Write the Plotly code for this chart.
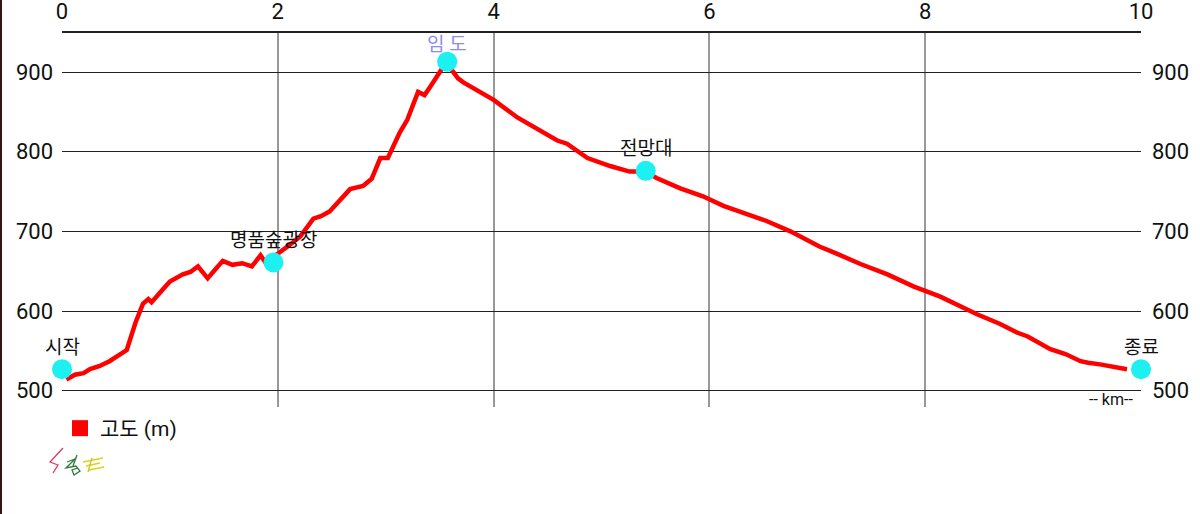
import plotly.graph_objects as go

# ---- data ----
dist_km = [0.04, 0.12, 0.20, 0.26, 0.35, 0.44, 0.52, 0.60, 0.68, 0.75, 0.80, 0.83, 0.94, 1.00,
           1.12, 1.19, 1.26, 1.35, 1.42, 1.49, 1.58, 1.67, 1.76, 1.84, 1.88, 1.99, 2.11, 2.21,
           2.33, 2.40, 2.48, 2.67, 2.79, 2.87, 2.95, 3.02, 3.13, 3.20, 3.30, 3.36, 3.41, 3.50,
           3.55, 3.60, 3.67, 3.72, 3.87, 4.00, 4.22, 4.40, 4.59, 4.68, 4.77, 4.87, 5.08, 5.26,
           5.41, 5.51, 5.73, 5.94, 6.13, 6.35, 6.53, 6.75, 7.02, 7.18, 7.40, 7.65, 7.89, 8.14,
           8.48, 8.69, 8.85, 8.95, 9.16, 9.30, 9.44, 9.51, 9.62, 9.87]
elev_m = [514, 520, 522, 527, 531, 537, 544, 551, 585, 609, 615, 611, 628, 637,
          646, 649, 656, 641, 652, 663, 658, 660, 656, 670, 662, 671, 683, 694,
          716, 719, 725, 753, 757, 766, 792, 792, 824, 840, 875, 871, 881, 900,
          910, 905, 892, 887, 875, 865, 843, 829, 814, 810, 801, 792, 782, 775,
          775, 767, 754, 744, 732, 722, 713, 700, 681, 672, 659, 646, 631, 618,
          596, 584, 573, 568, 552, 546, 537, 535, 533, 527]

poi_names = ["시작", "명품숲광장", "임 도", "전망대", "종료"]
poi_km = [0.0, 1.96, 3.57, 5.41, 10.0]
poi_elev = [527, 661, 913, 776, 527]
poi_label_colors = ["#111111", "#111111", "#8c8cf0", "#111111", "#111111"]
poi_label_shift = [22, 22, 17, 22, 22]  # px above marker (style)

x_ticks = [0, 2, 4, 6, 8, 10]
y_ticks = [500, 600, 700, 800, 900]
legend_name = "고도 (m)"
x_unit = "-- km--"

# ---- layout geometry (pixels) ----
W, H = 1200, 514
L, R, T, B = 62, 59, 33, 107
PW = W - L - R
PH = H - T - B
Y_RANGE = [479.5, 949]


def px2paper(px, py):
    return (px - L) / PW, (H - B - py) / PH


FONT = "Roboto, 'Noto Sans CJK KR', 'Noto Sans', sans-serif"

fig = go.Figure()

fig.add_trace(go.Scatter(
    x=dist_km, y=elev_m, mode="lines",
    line=dict(color="#ff0000", width=4.5),
    showlegend=False, hoverinfo="x+y",
))

# legend entry (red square)
fig.add_trace(go.Scatter(
    x=[None], y=[None], mode="markers", name=legend_name,
    marker=dict(symbol="square", color="#ff0000", size=17),
    showlegend=True,
))

# points of interest
fig.add_trace(go.Scatter(
    x=poi_km, y=poi_elev, mode="markers",
    marker=dict(color="#1cf0f0", size=20),
    showlegend=False, cliponaxis=False, hovertext=poi_names, hoverinfo="text",
))

# invisible trace for right axis
fig.add_trace(go.Scatter(x=[0], y=[700], yaxis="y2", mode="markers",
                         marker=dict(opacity=0), showlegend=False, hoverinfo="skip"))

annotations = []
for name, xk, ye, col, sh in zip(poi_names, poi_km, poi_elev, poi_label_colors, poi_label_shift):
    annotations.append(dict(
        text=name, x=xk, y=ye, xref="x", yref="y", showarrow=False,
        xanchor="center", yanchor="middle", yshift=sh,
        font=dict(size=19, color=col, family=FONT),
    ))
annotations.append(dict(
    text=x_unit, xref="paper", yref="paper",
    x=px2paper(1135, 0)[0], y=px2paper(0, 399)[1],
    xanchor="right", yanchor="middle", showarrow=False,
    font=dict(size=16, color="#111111", family=FONT),
))

shapes = []
# left dark edge of screenshot
x0, _ = px2paper(1, 0)
shapes.append(dict(type="line", xref="paper", yref="paper", x0=x0, x1=x0,
                   y0=px2paper(0, 514)[1], y1=px2paper(0, 0)[1],
                   line=dict(color="#3a1414", width=2)))

# signature strokes (approximation)
def stroke(points, color, width=1.3):
    pts = [px2paper(px, py) for px, py in points]
    path = "M " + " L ".join(f"{x:.5f},{y:.5f}" for x, y in pts)
    shapes.append(dict(type="path", xref="paper", yref="paper", path=path,
                       line=dict(color=color, width=width)))

stroke([(63, 448), (50, 462), (58, 465), (53, 473)], "#d83a63")
stroke([(67, 462), (75, 459), (66, 468), (76, 466), (80, 471), (74, 475), (72, 470), (78, 468)], "#2f7a3c")
stroke([(77, 455), (73, 466)], "#2f7a3c")
stroke([(83, 462), (103, 458)], "#d8d41c")
stroke([(86, 466), (100, 463)], "#d8d41c")
stroke([(89, 470), (104, 467)], "#d8d41c")
stroke([(92, 458), (88, 472)], "#c8c420")

fig.update_layout(
    width=W, height=H,
    margin=dict(l=L, r=R, t=T, b=B, pad=0, autoexpand=False),
    paper_bgcolor="white", plot_bgcolor="white",
    font=dict(family=FONT, color="#111111"),
    showlegend=True,
    legend=dict(x=px2paper(60, 0)[0], y=px2paper(0, 408)[1], xanchor="left", yanchor="top",
                orientation="h", font=dict(size=21, family=FONT, color="#111111"),
                bgcolor="rgba(0,0,0,0)", itemwidth=30),
    xaxis=dict(
        range=[0, 10], side="top", tickvals=x_ticks, automargin=False,
        tickfont=dict(size=22, color="#111111"),
        showgrid=True, gridcolor="#999999", gridwidth=2,
        zeroline=False, showline=True, linecolor="#222222", linewidth=1.5,
        ticks="", ticklabelstandoff=3, fixedrange=True,
    ),
    yaxis=dict(
        range=Y_RANGE, tickvals=y_ticks, automargin=False,
        tickfont=dict(size=22, color="#111111"),
        showgrid=True, gridcolor="#222222", gridwidth=1.3,
        zeroline=False, showline=False, ticks="", ticklabelstandoff=8,
    ),
    yaxis2=dict(
        range=Y_RANGE, tickvals=y_ticks, overlaying="y", side="right", automargin=False,
        tickfont=dict(size=22, color="#111111"),
        showgrid=False, zeroline=False, showline=False, ticks="", ticklabelstandoff=10,
    ),
    shapes=shapes,
    annotations=annotations,
)

fig.write_html("out.html", config={"displayModeBar": False},
               post_script="document.body.style.margin='0';")
